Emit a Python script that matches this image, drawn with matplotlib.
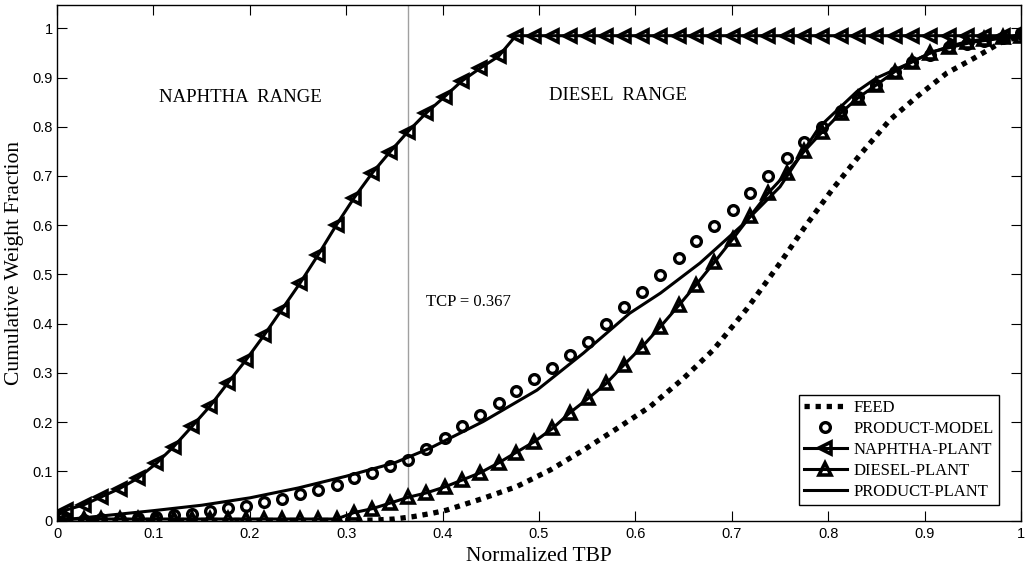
import matplotlib
matplotlib.use("Agg")
import matplotlib.pyplot as plt

# ---------------- data ----------------
x_grid = [0.0, 0.009, 0.028, 0.046, 0.065, 0.084, 0.103, 0.121, 0.140, 0.159,
          0.177, 0.196, 0.215, 0.233, 0.252, 0.271, 0.290, 0.308, 0.327, 0.345,
          0.364, 0.383, 0.402, 0.420, 0.439, 0.458, 0.476, 0.495, 0.514, 0.532,
          0.551, 0.570, 0.588, 0.607, 0.626, 0.645, 0.663, 0.682, 0.701, 0.719,
          0.738, 0.757, 0.775, 0.794, 0.813, 0.831, 0.850, 0.869, 0.887, 0.906,
          0.925, 0.944, 0.962, 0.981, 1.0]

naphtha_plant = [0.010, 0.021, 0.032, 0.048, 0.065, 0.086, 0.116, 0.150, 0.191, 0.233,
                 0.279, 0.326, 0.377, 0.428, 0.482, 0.540, 0.601, 0.655, 0.706, 0.748,
                 0.790, 0.828, 0.861, 0.893, 0.919, 0.943, 0.985, 0.985, 0.985, 0.985,
                 0.985, 0.985, 0.985, 0.985, 0.985, 0.985, 0.985, 0.985, 0.985, 0.985,
                 0.985, 0.985, 0.985, 0.985, 0.985, 0.985, 0.985, 0.985, 0.985, 0.985,
                 0.985, 0.985, 0.985, 0.985, 0.985]

diesel_plant = [0.003, 0.003, 0.003, 0.003, 0.003, 0.003, 0.003, 0.003, 0.003, 0.003,
                0.003, 0.003, 0.003, 0.003, 0.003, 0.003, 0.003, 0.016, 0.024, 0.035,
                0.047, 0.056, 0.068, 0.082, 0.097, 0.117, 0.138, 0.160, 0.187, 0.219,
                0.248, 0.279, 0.316, 0.353, 0.394, 0.437, 0.479, 0.525, 0.572, 0.618,
                0.666, 0.706, 0.750, 0.790, 0.828, 0.859, 0.885, 0.912, 0.932, 0.950,
                0.963, 0.973, 0.978, 0.982, 0.985]

product_model = [0.000, 0.001, 0.002, 0.003, 0.004, 0.006, 0.008, 0.011, 0.014, 0.020,
                 0.025, 0.030, 0.037, 0.044, 0.053, 0.062, 0.073, 0.086, 0.097, 0.110,
                 0.123, 0.146, 0.168, 0.192, 0.214, 0.238, 0.263, 0.287, 0.309, 0.336,
                 0.363, 0.399, 0.433, 0.465, 0.499, 0.533, 0.567, 0.599, 0.631, 0.666,
                 0.700, 0.736, 0.770, 0.800, 0.832, 0.860, 0.885, 0.912, 0.932, 0.946,
                 0.962, 0.968, 0.975, 0.980, 0.990]

product_plant_x = [0.0, 0.05, 0.10, 0.15, 0.20, 0.25, 0.30, 0.35, 0.387, 0.442,
                   0.498, 0.546, 0.594, 0.626, 0.667, 0.709, 0.750, 0.791, 0.830,
                   0.850, 0.884, 0.909, 0.950, 1.0]
product_plant_y = [0.0, 0.010, 0.020, 0.031, 0.046, 0.066, 0.090, 0.117, 0.147, 0.201,
                   0.265, 0.340, 0.421, 0.462, 0.523, 0.597, 0.678, 0.800, 0.872,
                   0.899, 0.929, 0.953, 0.972, 0.985]

feed_x = [0.0, 0.30, 0.33, 0.35, 0.37, 0.39, 0.404, 0.442, 0.477, 0.512, 0.546,
          0.581, 0.615, 0.650, 0.681, 0.716, 0.750, 0.776, 0.804, 0.833, 0.864,
          0.892, 0.923, 0.951, 0.978, 1.0]
feed_y = [0.0, 0.0, 0.001, 0.003, 0.008, 0.015, 0.021, 0.045, 0.069, 0.103, 0.143,
          0.187, 0.231, 0.289, 0.347, 0.431, 0.523, 0.597, 0.672, 0.743, 0.814,
          0.861, 0.909, 0.939, 0.970, 0.985]

tcp = 0.364

x_ticks = [0, 0.1, 0.2, 0.3, 0.4, 0.5, 0.6, 0.7, 0.8, 0.9, 1.0]
x_tick_labels = ["0", "0.1", "0.2", "0.3", "0.4", "0.5", "0.6", "0.7", "0.8", "0.9", "1"]
y_ticks = [0, 0.1, 0.2, 0.3, 0.4, 0.5, 0.6, 0.7, 0.8, 0.9, 1.0]
y_tick_labels = ["0", "0.1", "0.2", "0.3", "0.4", "0.5", "0.6", "0.7", "0.8", "0.9", "1"]

# ---------------- figure ----------------
W, H = 1025, 571
fig = plt.figure(figsize=(W / 100, H / 100), dpi=100)
ax_l, ax_r, ax_t, ax_b = 57, 1021, 4.7, 520.5
ax = fig.add_axes([ax_l / W, (H - ax_b) / H, (ax_r - ax_l) / W, (ax_b - ax_t) / H])

serif = "Liberation Serif"
sans = "Liberation Sans"

ax.axvline(tcp, color="#a0a0a0", lw=1.0, zorder=1)

ax.plot(feed_x, feed_y, color="black", lw=3.8, dashes=(1, 1.1),
        dash_capstyle="butt", label="FEED", zorder=2)
ax.plot(x_grid, product_model, linestyle="none", marker="o", ms=7, mew=2.4,
        mfc="none", mec="black", label="PRODUCT-MODEL", zorder=3)
ax.plot(x_grid, naphtha_plant, color="black", lw=2.2, marker="<", ms=9, mew=2.6,
        mfc="none", mec="black", label="NAPHTHA-PLANT", zorder=3)
ax.plot(x_grid, diesel_plant, color="black", lw=2.2, marker="^", ms=9, mew=2.6,
        mfc="none", mec="black", label="DIESEL-PLANT", zorder=3)
ax.plot(product_plant_x, product_plant_y, color="black", lw=2.2,
        label="PRODUCT-PLANT", zorder=3)

ax.set_xlim(0, 1)
ax.set_ylim(0, 1.048)
ax.set_xticks(x_ticks)
ax.set_xticklabels(x_tick_labels, family=sans, fontsize=10.5)
ax.set_yticks(y_ticks)
ax.set_yticklabels(y_tick_labels, family=sans, fontsize=10.5)
ax.tick_params(direction="in", top=True, right=True, length=7, width=0.8)
ax.tick_params(axis="x", pad=5)
ax.tick_params(axis="y", pad=3)
for s in ax.spines.values():
    s.set_linewidth(1.0)

ax.set_xlabel("Normalized TBP", family=serif, fontsize=15.5, labelpad=4)
ax.set_ylabel("Cumulative Weight Fraction", family=serif, fontsize=15.5, labelpad=6)

def px(xp, yp):
    return ((xp - ax_l) / (ax_r - ax_l), (ax_b - yp) / (ax_b - ax_t))

ax.text(*px(240, 97), "NAPHTHA  RANGE", transform=ax.transAxes, family=serif,
        fontsize=13.5, ha="center", va="center")
ax.text(*px(618, 95), "DIESEL  RANGE", transform=ax.transAxes, family=serif,
        fontsize=13.5, ha="center", va="center")
ax.text(*px(426, 302), "TCP = 0.367", transform=ax.transAxes, family=serif,
        fontsize=12, ha="left", va="center")

leg = ax.legend(loc="lower right", bbox_to_anchor=(0.977, 0.030),
                prop={"family": serif, "size": 12}, numpoints=1,
                handlelength=2.6, handletextpad=0.4, labelspacing=0.3,
                borderpad=0.3, borderaxespad=0, fancybox=False, framealpha=1)
leg.get_frame().set_edgecolor("black")
leg.get_frame().set_linewidth(1.0)

fig.savefig("out.png", dpi=100)
